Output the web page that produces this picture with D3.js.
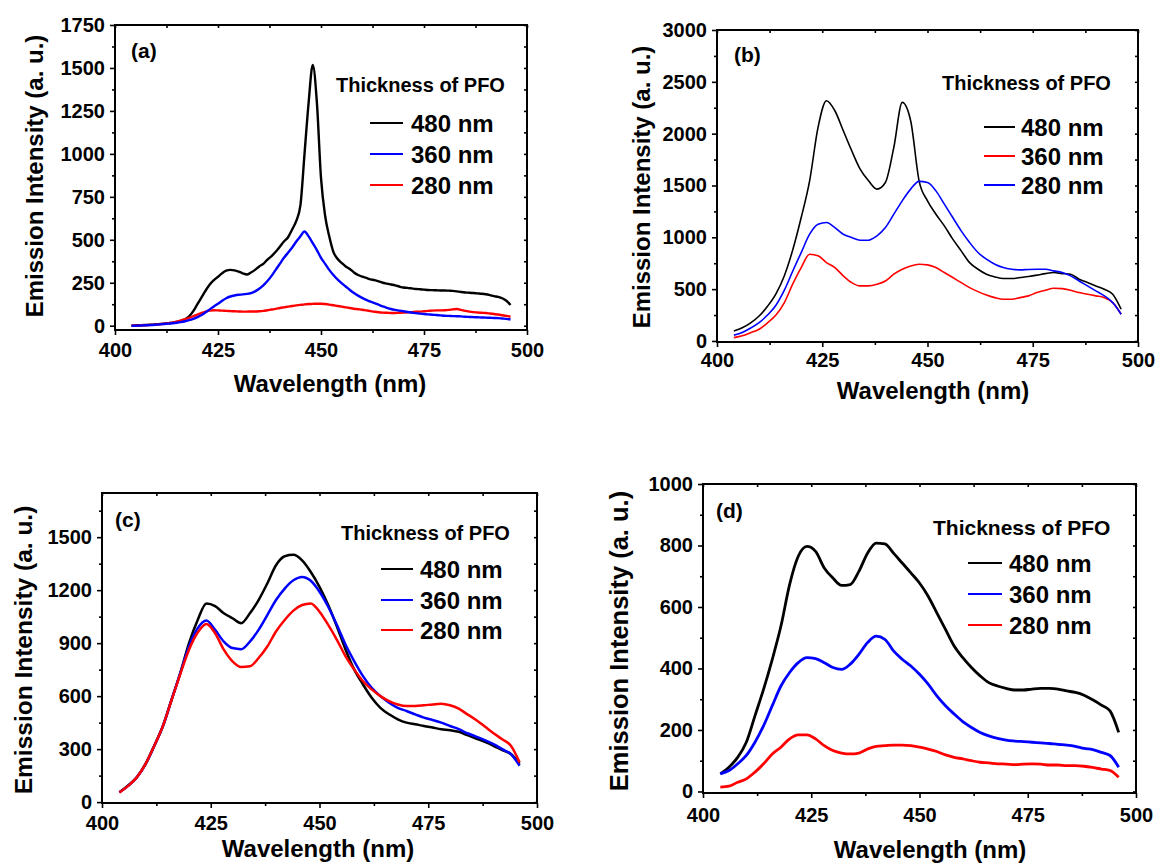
<!DOCTYPE html>
<html>
<head>
<meta charset="utf-8">
<script src="https://cdn.jsdelivr.net/npm/d3@7"></script>
<style>
  body { margin: 0; background: #fff; }
  text { font-family: "Liberation Sans", Arial, sans-serif; font-weight: bold; fill: #000; }
</style>
</head>
<body>
<div id="chart"></div>
<script>
// wavelength grids (nm)
const wlA = [404,405,406,407,408,409,410,411,412,413,414,415,416,417,418,419,420,421,422,423,424,425,426,427,428,429,
  430,431,432,433,434,435,436,437,438,439,440,441,442,443,444,445,446,447,448,449,450,451,452,453,454,455,456,457,458,459,
  460,461,462,463,464,465,466,467,468,469,470,471,472,473,474,475,476,477,478,479,480,481,482,483,484,485,486,487,488,489,
  490,491,492,493,494,495,496];
const wl2 = [404,406,408,410,412,414,416,418,420,422,424,426,428,430,432,434,436,438,440,442,444,446,448,450,
  452,454,456,458,460,462,464,466,468,470,472,474,476,478,480,482,484,486,488,490,492,494,496];

const xTicks = [400, 425, 450, 475, 500];
const xMinor = [412.5, 437.5, 462.5, 487.5];

// panel (a)
const a480 = [0,2,3,4,5,6,8,10,12,15,18,22,28,38,55,85,125,165,205,240,265,285,305,320,325,322,
  315,305,298,310,325,345,360,385,405,430,460,490,515,560,610,700,1000,1300,1517,1300,860,640,520,430,390,365,345,330,310,295,
  285,278,270,265,258,250,245,240,235,228,222,220,217,214,212,210,208,207,206,205,205,204,203,200,196,193,192,190,188,186,
  183,178,172,168,160,145,120];
const a360 = [0,0,1,2,3,4,6,8,10,12,14,17,21,26,32,40,50,62,78,95,112,128,145,160,170,176,
  180,182,185,190,200,215,235,260,290,325,360,395,425,455,490,520,548,520,480,440,395,360,325,295,270,248,228,208,190,175,
  162,150,140,132,122,112,104,97,92,88,84,80,77,73,70,68,66,64,62,60,58,57,56,55,54,52,51,50,49,48,
  47,46,45,44,42,40,36];
const a280 = [0,1,2,3,4,5,7,9,11,14,18,24,31,38,45,55,64,74,82,88,90,89,88,86,85,84,
  83,82,82,83,83,84,86,90,94,98,103,107,111,115,118,121,124,126,127,128,128,126,123,119,115,111,107,103,99,96,
  93,89,85,81,78,76,75,74,74,75,76,78,79,81,82,84,86,88,89,89,90,92,95,97,92,86,82,79,77,75,
  74,71,68,65,61,57,52];

// panel (b)
const b480 = [97,128,175,241,335,455,630,880,1191,1545,2060,2318,2221,2028,1835,1658,1545,1465,1529,1867,2302,2125,1545,1352,
  1223,1110,982,869,756,692,644,618,602,602,612,622,635,650,660,650,644,596,563,531,499,451,306];
const b360 = [32,50,80,113,175,250,370,550,708,837,821,756,708,628,563,531,531,547,579,644,692,724,740,734,
  708,660,612,563,515,476,444,418,402,402,418,435,467,489,509,505,489,467,451,435,418,370,258];
const b280 = [55,82,125,177,250,345,490,675,853,1030,1127,1143,1094,1030,998,972,972,1014,1094,1223,1352,1465,1540,1528,
  1448,1320,1191,1062,950,853,789,740,708,692,686,690,692,692,676,660,628,579,531,483,435,370,258];

// panel (c)
const c480 = [56,94,141,216,319,431,581,731,900,1031,1125,1110,1069,1041,1013,1069,1144,1238,1341,1392,1400,1369,1303,1219,
  1116,994,863,750,666,591,534,497,469,450,441,431,422,413,407,398,379,360,341,319,294,272,216];
const c360 = [56,92,140,214,317,430,580,731,881,984,1028,975,909,872,866,909,975,1059,1144,1209,1256,1275,1253,1191,
  1106,1003,891,797,713,647,600,563,534,516,497,478,465,450,431,413,390,371,351,328,300,272,206];
const c280 = [55,92,140,215,318,430,578,725,863,960,1009,956,863,797,765,769,816,881,966,1031,1084,1116,1125,1078,
  1003,919,825,750,684,638,600,572,553,544,544,548,553,557,548,529,497,465,428,390,356,319,225];

// panel (d)
const d480 = [57,79,111,160,246,333,430,538,673,765,797,781,727,694,670,673,716,775,808,805,775,743,711,678,
  635,581,527,473,435,403,376,354,343,335,330,330,333,335,335,333,327,322,313,298,281,262,192];
const d360 = [57,68,90,117,160,214,279,343,387,419,435,432,419,403,397,414,446,484,505,495,457,430,408,381,
  349,311,279,252,227,208,192,181,173,167,164,162,160,158,156,153,151,147,140,136,127,117,79];
const d280 = [14,17,30,41,63,90,122,144,171,184,184,171,149,133,125,122,125,138,147,149,151,151,149,144,
  138,130,119,111,106,100,95,93,90,89,87,89,90,89,86,86,84,84,82,78,73,68,46];

const legendTitle = "Thickness of PFO";
const yTitle = "Emission Intensity (a. u.)";
const xTitle = "Wavelength (nm)";

const BLACK = "#000000", BLUE = "#0000ff", RED = "#ff0000";

const panels = [
  { tag: "(a)", left: 115, right: 527, top: 25, bottom: 330, yDomain: [-25, 1750],
    yTicks: [0,250,500,750,1000,1250,1500,1750], yMinor: [125,375,625,875,1125,1375,1625],
    wl: wlA, lw: 2.4, xPad: 8, ySize: 24,
    draw: [{v: a480, c: BLACK}, {v: a280, c: RED}, {v: a360, c: BLUE}],
    legend: [{t: "480 nm", c: BLACK}, {t: "360 nm", c: BLUE}, {t: "280 nm", c: RED}],
    tagPos: [131, 50], titlePos: [336, 85], titleSize: 20, legX: [370, 403, 411], legY: [123, 154, 185],
    yLab: [34, 176], xLab: [330, 383] },
  { tag: "(b)", left: 717, right: 1138, top: 30, bottom: 342, yDomain: [-10, 3000],
    yTicks: [0,500,1000,1500,2000,2500,3000], yMinor: [250,750,1250,1750,2250,2750],
    wl: wl2, lw: 1.6, xPad: 6, ySize: 24,
    draw: [{v: b480, c: BLACK}, {v: b360, c: RED}, {v: b280, c: BLUE}],
    legend: [{t: "480 nm", c: BLACK}, {t: "360 nm", c: RED}, {t: "280 nm", c: BLUE}],
    tagPos: [734, 54], titlePos: [942, 83], titleSize: 20, legX: [984, 1015, 1021], legY: [127, 156, 185],
    yLab: [641, 187], xLab: [933, 390] },
  { tag: "(c)", left: 102, right: 537, top: 493, bottom: 803, yDomain: [-5, 1750],
    yTicks: [0,300,600,900,1200,1500], yMinor: [150,450,750,1050,1350,1650],
    wl: wl2, lw: 2.5, xPad: 8, ySize: 24.5,
    draw: [{v: c480, c: BLACK}, {v: c360, c: BLUE}, {v: c280, c: RED}],
    legend: [{t: "480 nm", c: BLACK}, {t: "360 nm", c: BLUE}, {t: "280 nm", c: RED}],
    tagPos: [115, 519], titlePos: [341, 533], titleSize: 20, legX: [381, 413, 420], legY: [569, 600, 630],
    yLab: [23, 650], xLab: [318, 848] },
  { tag: "(d)", left: 703, right: 1136, top: 484, bottom: 793, yDomain: [-5, 1000],
    yTicks: [0,200,400,600,800,1000], yMinor: [100,300,500,700,900],
    wl: wl2, lw: 2.8, xPad: 10, ySize: 25.5,
    draw: [{v: d480, c: BLACK}, {v: d360, c: BLUE}, {v: d280, c: RED}],
    legend: [{t: "480 nm", c: BLACK}, {t: "360 nm", c: BLUE}, {t: "280 nm", c: RED}],
    tagPos: [716, 510], titlePos: [933, 527], titleSize: 21, legX: [968, 1002, 1009], legY: [563, 594, 625],
    yLab: [619, 641], xLab: [930, 849] }
];

const svg = d3.select("#chart").append("svg")
  .attr("width", 1157)
  .attr("height", 866);

function styleAxis(sel, fontSize) {
  sel.select(".domain").remove();
  sel.selectAll(".tick line").attr("stroke", "#000").attr("stroke-width", 1.6);
  sel.selectAll("text").style("font-size", fontSize + "px").attr("fill", "#000");
}

function drawPanel(p) {
  const x = d3.scaleLinear().domain([400, 500]).range([p.left, p.right]);
  const y = d3.scaleLinear().domain(p.yDomain).range([p.bottom, p.top]);
  const g = svg.append("g");

  const clipId = "clip" + p.tag.replace(/\W/g, "");
  g.append("clipPath").attr("id", clipId).append("rect")
    .attr("x", p.left).attr("y", p.top)
    .attr("width", p.right - p.left).attr("height", p.bottom - p.top);

  const line = d3.line()
    .x((d, i) => x(p.wl[i]))
    .y(d => y(d))
    .curve(d3.curveMonotoneX);

  const plot = g.append("g").attr("clip-path", `url(#${clipId})`);
  p.draw.forEach(s => {
    plot.append("path")
      .datum(s.v)
      .attr("fill", "none")
      .attr("stroke", s.c)
      .attr("stroke-width", p.lw)
      .attr("stroke-linejoin", "round")
      .attr("d", line);
  });

  // bottom axis
  g.append("g").attr("transform", `translate(0,${p.bottom})`)
    .call(d3.axisBottom(x).tickValues(xTicks).tickSize(5).tickPadding(p.xPad).tickFormat(d3.format("d")))
    .call(s => styleAxis(s, 20));
  g.append("g").attr("transform", `translate(0,${p.bottom})`)
    .call(d3.axisBottom(x).tickValues(xMinor).tickSize(3).tickFormat(""))
    .call(s => styleAxis(s, 20));
  // top axis (inner ticks)
  g.append("g").attr("transform", `translate(0,${p.top})`)
    .call(d3.axisTop(x).tickValues(xTicks.concat(xMinor)).tickSize(-3).tickFormat(""))
    .call(s => styleAxis(s, 20));

  // left axis
  g.append("g").attr("transform", `translate(${p.left},0)`)
    .call(d3.axisLeft(y).tickValues(p.yTicks).tickSize(5).tickPadding(5).tickFormat(d3.format("d")))
    .call(s => styleAxis(s, 20));
  g.append("g").attr("transform", `translate(${p.left},0)`)
    .call(d3.axisLeft(y).tickValues(p.yMinor).tickSize(3).tickFormat(""))
    .call(s => styleAxis(s, 20));
  // right axis (inner ticks)
  g.append("g").attr("transform", `translate(${p.right},0)`)
    .call(d3.axisRight(y).tickValues(p.yTicks.concat(p.yMinor)).tickSize(-3).tickFormat(""))
    .call(s => styleAxis(s, 20));

  // frame
  g.append("rect")
    .attr("x", p.left).attr("y", p.top)
    .attr("width", p.right - p.left).attr("height", p.bottom - p.top)
    .attr("fill", "none").attr("stroke", "#000").attr("stroke-width", 2);

  // panel tag
  g.append("text").attr("x", p.tagPos[0]).attr("y", p.tagPos[1])
    .attr("dominant-baseline", "central").style("font-size", "21px").text(p.tag);

  // legend
  g.append("text").attr("x", p.titlePos[0]).attr("y", p.titlePos[1])
    .attr("dominant-baseline", "central").style("font-size", p.titleSize + "px").text(legendTitle);
  p.legend.forEach((d, i) => {
    g.append("line")
      .attr("x1", p.legX[0]).attr("x2", p.legX[1])
      .attr("y1", p.legY[i]).attr("y2", p.legY[i])
      .attr("stroke", d.c).attr("stroke-width", 2);
    g.append("text").attr("x", p.legX[2]).attr("y", p.legY[i])
      .attr("dominant-baseline", "central").style("font-size", "24px").text(d.t);
  });

  // axis titles
  g.append("text")
    .attr("transform", `translate(${p.yLab[0]},${p.yLab[1]}) rotate(-90)`)
    .attr("text-anchor", "middle").attr("dominant-baseline", "central")
    .style("font-size", p.ySize + "px").text(yTitle);
  g.append("text")
    .attr("x", p.xLab[0]).attr("y", p.xLab[1])
    .attr("text-anchor", "middle").attr("dominant-baseline", "central")
    .style("font-size", "24px").text(xTitle);
}

panels.forEach(drawPanel);
</script>
</body>
</html>
